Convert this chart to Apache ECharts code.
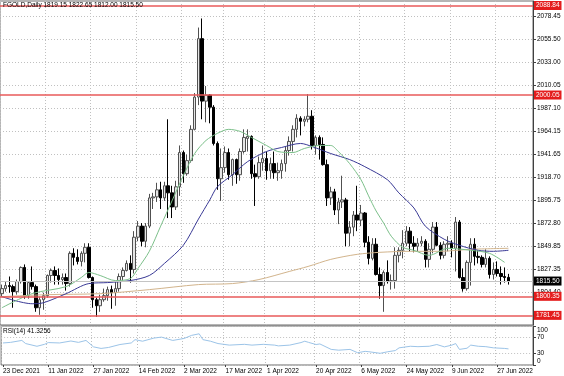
<!DOCTYPE html>
<html><head><meta charset="utf-8">
<script src="https://cdn.jsdelivr.net/npm/echarts@6/dist/echarts.min.js"></script>
<style>html,body{margin:0;padding:0;background:#fff}#c{width:564px;height:376px}</style>
</head><body><div id="c"></div>
<script>
const dates = [
'23 Dec 2021','27 Dec 2021','28 Dec 2021','29 Dec 2021','30 Dec 2021','31 Dec 2021',
'3 Jan 2022','4 Jan 2022','5 Jan 2022','6 Jan 2022','7 Jan 2022','10 Jan 2022','11 Jan 2022','12 Jan 2022','13 Jan 2022','14 Jan 2022',
'17 Jan 2022','18 Jan 2022','19 Jan 2022','20 Jan 2022','21 Jan 2022','24 Jan 2022','25 Jan 2022','26 Jan 2022','27 Jan 2022','28 Jan 2022','31 Jan 2022',
'1 Feb 2022','2 Feb 2022','3 Feb 2022','4 Feb 2022','7 Feb 2022','8 Feb 2022','9 Feb 2022','10 Feb 2022','11 Feb 2022',
'14 Feb 2022','15 Feb 2022','16 Feb 2022','17 Feb 2022','18 Feb 2022','21 Feb 2022','22 Feb 2022','23 Feb 2022','24 Feb 2022','25 Feb 2022','28 Feb 2022',
'1 Mar 2022','2 Mar 2022','3 Mar 2022','4 Mar 2022','7 Mar 2022','8 Mar 2022','9 Mar 2022','10 Mar 2022','11 Mar 2022',
'14 Mar 2022','15 Mar 2022','16 Mar 2022','17 Mar 2022','18 Mar 2022','21 Mar 2022','22 Mar 2022','23 Mar 2022','24 Mar 2022','25 Mar 2022',
'28 Mar 2022','29 Mar 2022','30 Mar 2022','31 Mar 2022','1 Apr 2022','4 Apr 2022','5 Apr 2022','6 Apr 2022','7 Apr 2022','8 Apr 2022',
'11 Apr 2022','12 Apr 2022','13 Apr 2022','14 Apr 2022','15 Apr 2022','18 Apr 2022','19 Apr 2022','20 Apr 2022','21 Apr 2022','22 Apr 2022',
'25 Apr 2022','26 Apr 2022','27 Apr 2022','28 Apr 2022','29 Apr 2022','2 May 2022','3 May 2022','4 May 2022','5 May 2022','6 May 2022',
'9 May 2022','10 May 2022','11 May 2022','12 May 2022','13 May 2022','16 May 2022','17 May 2022','18 May 2022','19 May 2022','20 May 2022',
'23 May 2022','24 May 2022','25 May 2022','26 May 2022','27 May 2022','30 May 2022','31 May 2022','1 Jun 2022','2 Jun 2022','3 Jun 2022',
'6 Jun 2022','7 Jun 2022','8 Jun 2022','9 Jun 2022','10 Jun 2022','13 Jun 2022','14 Jun 2022','15 Jun 2022','16 Jun 2022','17 Jun 2022',
'20 Jun 2022','21 Jun 2022','22 Jun 2022','23 Jun 2022','24 Jun 2022','27 Jun 2022','28 Jun 2022','29 Jun 2022','30 Jun 2022'];

const opens = [
1803,1808,1811,1810,1805,1815,1829,1801,1814,1810,
1789,1797,1801,1821,1826,1821,1817,1819,1813,1843,
1839,1835,1843,1849,1819,1797,1791,1797,1801,1807,
1804,1808,1820,1826,1833,1827,1859,1870,1855,1870,
1898,1899,1906,1898,1910,1903,1889,1909,1943,1922,
1935,1966,1998,2056,1994,2000,1988,1952,1917,1928,
1943,1921,1936,1921,1944,1957,1959,1922,1919,1933,
1937,1925,1932,1923,1925,1932,1945,1954,1966,1977,
1974,1976,1979,1950,1958,1951,1931,1898,1904,1886,
1894,1896,1863,1869,1881,1876,1883,1854,1838,1852,
1822,1811,1824,1815,1816,1841,1846,1853,1865,1853,
1850,1853,1855,1837,1847,1869,1851,1841,1852,1853,
1848,1874,1819,1808,1834,1852,1840,1839,1832,1838,
1822,1827,1823,1820,1819.15];
const highs = [
1812,1815,1820,1812,1817,1830,1832,1815,1830,1812,
1800,1804,1822,1828,1830,1828,1823,1823,1845,1848,
1847,1845,1853,1853,1820,1799,1802,1808,1810,1811,
1815,1823,1829,1836,1841,1865,1875,1873,1873,1902,
1903,1913,1914,1914,1976,1910,1915,1950,1945,1941,
1970,2002,2067,2076,2009,2001,1990,1954,1947,1949,
1947,1937,1937,1947,1966,1966,1960,1931,1939,1950,
1944,1938,1944,1933,1936,1949,1959,1970,1981,1979,
1979,2001,1985,1960,1960,1958,1936,1909,1907,1898,
1920,1898,1875,1885,1910,1891,1884,1860,1858,1858,
1829,1826,1836,1822,1849,1849,1866,1870,1869,1860,
1858,1860,1857,1853,1874,1874,1854,1855,1860,1856,
1879,1876,1828,1836,1858,1858,1846,1841,1847,1840,
1834,1835,1830,1829,1822.65];
const lows = [
1800,1805,1804,1789,1802,1813,1798,1798,1807,1785,
1782,1787,1799,1814,1812,1812,1812,1806,1810,1831,
1832,1830,1834,1818,1789,1780,1785,1795,1796,1788,
1791,1805,1816,1825,1814,1823,1855,1850,1849,1868,
1887,1894,1887,1895,1878,1878,1886,1900,1913,1920,
1933,1965,1990,1976,1973,1972,1950,1906,1895,1923,
1916,1910,1912,1915,1942,1944,1917,1890,1917,1925,
1916,1917,1917,1915,1917,1924,1940,1944,1958,1960,
1969,1973,1946,1941,1936,1930,1890,1891,1881,1872,
1888,1850,1850,1860,1865,1870,1849,1832,1836,1821,
1798,1785,1813,1807,1808,1834,1838,1850,1845,1844,
1845,1850,1829,1829,1843,1850,1837,1838,1845,1839,
1825,1818,1805,1806,1811,1831,1833,1829,1829,1818,
1817,1820,1812,1814,1812.00];
const closes = [
1808,1811,1810,1805,1815,1829,1801,1814,1810,1789,
1797,1801,1821,1826,1821,1817,1819,1813,1843,1839,
1835,1843,1849,1819,1797,1791,1797,1801,1807,1804,
1808,1820,1826,1833,1827,1859,1870,1855,1870,1898,
1899,1906,1898,1910,1903,1889,1909,1943,1922,1935,
1966,1998,2056,1994,2000,1988,1952,1917,1928,1943,
1921,1936,1921,1944,1958,1959,1922,1919,1933,1937,
1925,1932,1923,1925,1932,1945,1954,1966,1977,1974,
1976,1979,1950,1958,1951,1931,1898,1904,1886,1894,
1896,1863,1869,1881,1876,1883,1854,1838,1852,1822,
1811,1824,1815,1816,1841,1846,1853,1865,1853,1850,
1853,1855,1837,1847,1869,1851,1841,1852,1853,1848,
1874,1819,1808,1834,1852,1840,1839,1832,1838,1822,
1827,1823,1820,1819,1815.50];

// moving averages: [bar index, value]
const maFast = [[0,1789],[8,1803],[17,1810],[21,1819],[23,1824],[26,1821],[30,1816],[34,1818],[36,1828],[39,1845],[42,1870],[45,1895],[48,1920],[51,1942],[54,1955],[57,1962],[60,1966],[63,1964],[66,1958],[70,1950],[73,1944],[77,1943],[80,1947],[84,1950],[87,1950],[89,1944],[92,1932],[95,1916],[97,1900],[99,1885],[101,1873],[103,1860],[106,1849],[109,1846],[113,1841],[118,1848],[124,1846],[129,1843],[133,1834]];
const maMid = [[0,1800],[8,1793],[11,1794],[17,1803],[23,1813],[28,1814],[34,1816],[39,1821],[43,1833],[48,1851],[52,1877],[55,1896],[57,1909],[61,1921],[65,1934],[70,1944],[74,1948],[79,1952],[82,1949],[87,1942],[92,1936],[96,1929],[102,1916],[105,1903],[109,1888],[112,1870],[117,1857],[121,1851],[126,1846],[130,1845],[134,1846]];
const maSlow = [[0,1800],[12,1802],[26,1803],[39,1807],[52,1812],[61,1813],[68,1817],[76,1825],[81,1830],[87,1837],[94,1842],[100,1844],[108,1845],[116,1845],[124,1847],[134,1848]];
const rsi = [[0,56.5],[2,58],[5,63],[6,55],[9,48],[11,53],[12,57.5],[15,56.5],[18,61.5],[20,58],[22,63],[24,46.5],[26,42.5],[28,45],[31,52.5],[34,56.5],[35,65],[37,61],[40,69],[42,71.5],[45,63],[48,68],[50,76],[52,80],[53,65],[55,61],[57,55],[60,51],[64,53],[66,51],[69,53],[72,51],[73,49],[76,51],[79,57.5],[80,61],[81,58],[83,52.5],[84,54],[87,40],[89,38],[92,40],[94,31.5],[96,35],[97,34],[100,30],[102,34],[104,37],[105,44],[108,48],[110,47],[113,48],[115,52.5],[117,46.5],[119,51],[120,55],[121,40],[123,43],[124,51],[126,48],[128,47],[130,44],[133,42.5],[134,41.33]];

const dateTicks = ['23 Dec 2021','11 Jan 2022','27 Jan 2022','14 Feb 2022','2 Mar 2022','17 Mar 2022','1 Apr 2022','20 Apr 2022','6 May 2022','24 May 2022','9 Jun 2022','27 Jun 2022'];
const priceTicks = [1804.40,1827.35,1849.85,1872.80,1895.75,1918.70,1941.65,1964.15,1987.10,2010.05,2033.00,2055.50,2078.45];
const rsiTicks = [0,30,70,100];
const redLevels = [2088.84,2000.05,1800.35,1781.45];
const bidLevel = 1815.50;
const titleText = 'FGOLD,Daily 1819.15 1822.65 1812.00 1815.50';
const rsiText = 'RSI(14) 41.3256';

const cats = dates.concat(['','','','','','']);
const candles = dates.map((d,i)=>[opens[i],closes[i],lows[i],highs[i]]);
const fam = 'Liberation Sans';
const fs = 6.5;
const isTick = (i,v)=> dateTicks.indexOf(v) >= 0;
const dotted = {type:[1,2], color:'#c0c0c0', width:1};

function levelSeries(values, bg, lineColor, width, z){
  return {type:'line', xAxisIndex:0, yAxisIndex:0, data:[], z:z, silent:true,
    color:lineColor, itemStyle:{color:lineColor}, lineStyle:{color:lineColor},
    markLine:{silent:true, symbol:['none','none'], animation:false,
      itemStyle:{color:lineColor},
      lineStyle:{color:lineColor, width:width, type:'solid', opacity:1},
      label:{show:true, position:'end', distance:1, formatter:p=>Number(p.value).toFixed(2), backgroundColor:bg,
        color:'#fff', fontSize:fs, fontFamily:fam, padding:[1,2,1,2]},
      emphasis:{disabled:true},
      data:values.map(v=>({yAxis:v}))}};
}

const chart = echarts.init(document.getElementById('c'), null, {renderer:'canvas'});
chart.setOption({
  animation:false,
  backgroundColor:'#fff',
  textStyle:{fontFamily:fam},
  title:[
    {text:titleText, left:3, top:2, padding:0, textStyle:{fontSize:fs, fontWeight:'normal', color:'#000', fontFamily:fam}},
    {text:rsiText, left:3, top:328, padding:0, textStyle:{fontSize:fs, fontWeight:'normal', color:'#000', fontFamily:fam}}
  ],
  grid:[
    {left:0, right:31, top:1, height:324, show:true, borderColor:'#6a6a6a', borderWidth:1},
    {left:0, right:31, top:326, height:39, show:true, borderColor:'#6a6a6a', borderWidth:1}
  ],
  xAxis:[
    {type:'category', gridIndex:0, data:cats, boundaryGap:true,
     axisLine:{show:false}, axisTick:{show:false}, axisLabel:{show:false},
     splitLine:{show:true, interval:isTick, lineStyle:dotted}},
    {type:'category', gridIndex:1, data:cats, boundaryGap:true,
     axisLine:{show:false},
     axisTick:{show:true, interval:isTick, alignWithLabel:true, length:2, lineStyle:{color:'#404040'}},
     axisLabel:{show:true, interval:isTick, align:'left', fontSize:fs, color:'#000', margin:3, fontFamily:fam},
     splitLine:{show:true, interval:isTick, lineStyle:dotted}}
  ],
  yAxis:[
    {type:'value', gridIndex:0, position:'right', min:1771.9, max:2093.33,
     axisLine:{show:true, lineStyle:{color:'#404040'}},
     axisTick:{show:true, customValues:priceTicks, length:3, lineStyle:{color:'#404040'}},
     axisLabel:{show:true, customValues:priceTicks, formatter:v=>Number(v).toFixed(2), fontSize:fs, color:'#000', margin:4, fontFamily:fam},
     splitLine:{show:true, lineStyle:dotted}},
    {type:'value', gridIndex:1, position:'right', min:0, max:100,
     axisLine:{show:true, lineStyle:{color:'#404040'}},
     axisTick:{show:true, customValues:rsiTicks, length:3, lineStyle:{color:'#404040'}},
     axisLabel:{show:true, customValues:rsiTicks, fontSize:fs, color:'#000', margin:4, fontFamily:fam,
       formatter:v=> v===100 ? '{a|100}' : (v===0 ? '{b|0}' : String(v)),
       rich:{a:{fontSize:fs, fontFamily:fam, color:'#000', padding:[8,0,0,0]}, b:{fontSize:fs, fontFamily:fam, color:'#000', padding:[0,0,8,0]}}},
     splitLine:{show:true, lineStyle:dotted}}
  ],
  series:[
    levelSeries([bidLevel], '#000000', '#c4c4c4', 1, 1),
    levelSeries(redLevels, '#e41d1d', '#e85a5a', 1.6, 1),
    {type:'candlestick', xAxisIndex:0, yAxisIndex:0, data:candles, barWidth:3, z:3,
     itemStyle:{color:'#e6e6e6', color0:'#000000', borderColor:'#505050', borderColor0:'#000000', borderWidth:1}},
    {type:'line', xAxisIndex:0, yAxisIndex:0, data:maSlow, symbol:'none', smooth:0.3, z:4, lineStyle:{color:'#d2b48c', width:1}},
    {type:'line', xAxisIndex:0, yAxisIndex:0, data:maMid, symbol:'none', smooth:0.3, z:4, lineStyle:{color:'#3a3a96', width:1}},
    {type:'line', xAxisIndex:0, yAxisIndex:0, data:maFast, symbol:'none', smooth:0.3, z:4, lineStyle:{color:'#7cc08a', width:1}},
    {type:'line', xAxisIndex:1, yAxisIndex:1, data:rsi, symbol:'none', lineStyle:{color:'#9cc4e8', width:1}}
  ]
});
</script></body></html>
